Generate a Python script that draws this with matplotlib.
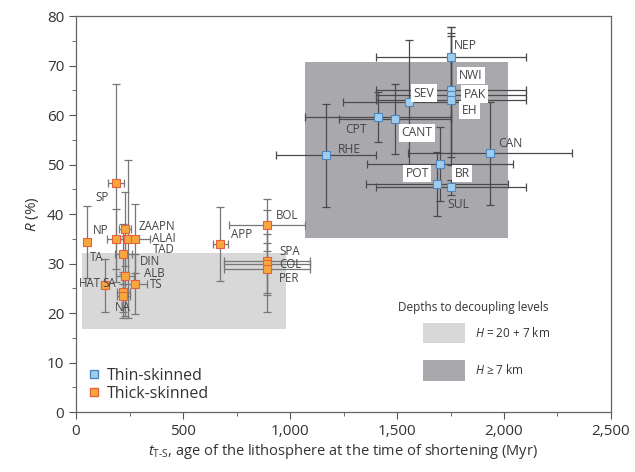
import numpy as np
import matplotlib.pyplot as plt
from matplotlib.patches import Rectangle
from matplotlib.lines import Line2D
from matplotlib.ticker import MultipleLocator, FuncFormatter

plt.rcParams['font.family'] = ['Open Sans', 'DejaVu Sans']
plt.rcParams['mathtext.fontset'] = 'custom'
plt.rcParams['mathtext.rm'] = 'Open Sans'
plt.rcParams['mathtext.it'] = 'Open Sans:italic'

# thin-skinned belts
thin_names = ['NEP', 'NWI', 'PAK', 'EH', 'SEV', 'CPT', 'CANT', 'RHE', 'CAN', 'POT', 'BR', 'SUL']
thin_age = [1752, 1752, 1752, 1752, 1556, 1411, 1491, 1168, 1935, 1701, 1687, 1752]
thin_r = [71.7, 65.0, 64.0, 63.0, 62.6, 59.6, 59.2, 51.9, 52.3, 50.1, 46.1, 45.4]
thin_age_err = [350, 350, 350, 350, 310, 340, 260, 234, 385, 341, 334, 350]
thin_r_err = [6.0, 12.7, 12.5, 13.0, 12.6, 5.0, 7.0, 10.4, 10.4, 7.5, 6.5, 1.5]

# thick-skinned belts
thick_names = ['SP', 'NP', 'TA', 'ZAAPN', 'TAD', 'ALAI', 'DIN', 'ALB', 'TS', 'HAT', 'SA', 'NA',
               'APP', 'BOL', 'SPA', 'COL', 'PER']
thick_age = [187, 187, 51, 229, 244, 276, 221, 229, 276, 136, 221, 221, 673, 893, 893, 893, 893]
thick_r = [46.3, 35.0, 34.4, 37.0, 35.0, 35.0, 31.9, 27.5, 25.9, 25.6, 24.2, 23.4,
           34.0, 37.8, 30.5, 30.0, 28.9]
thick_age_err = [37, 40, 15, 30, 50, 70, 40, 40, 56, 20, 30, 30, 35, 178, 200, 200, 200]
thick_r_err = [20.0, 6.0, 7.3, 7.5, 16.0, 7.0, 6.0, 8.0, 6.0, 5.3, 4.0, 4.5, 7.5, 5.2, 10.3, 6.0, 5.3]

# label positions (data coords, left-aligned)
thin_lab = {'NEP': (1766, 74.1), 'NWI': (1790, 68.0), 'PAK': (1812, 64.2), 'EH': (1803, 61.0),
            'SEV': (1578, 64.4), 'CPT': (1257, 57.0), 'CANT': (1520, 56.4), 'RHE': (1224, 53.1),
            'CAN': (1972, 54.3), 'POT': (1540, 48.2), 'BR': (1770, 48.2), 'SUL': (1734, 42.0)}
boxed = ['NWI', 'PAK', 'EH', 'SEV', 'CANT', 'POT', 'BR']
thick_lab = {'SP': (89, 43.4), 'NP': (80, 36.6), 'ZAAPN': (294, 37.5), 'ALAI': (355, 35.1),
             'TAD': (360, 32.8), 'TA': (65, 31.3), 'DIN': (299, 30.4), 'ALB': (318, 28.0),
             'TS': (346, 25.7), 'HAT': (15, 25.9), 'SA': (121, 25.9), 'NA': (182, 21.2),
             'APP': (724, 35.8), 'BOL': (934, 39.8), 'SPA': (949, 32.5), 'COL': (949, 29.9),
             'PER': (949, 26.9)}

fig = plt.figure(figsize=(6.35, 4.72), dpi=100)
ax = fig.add_axes([0.1197, 0.127, 0.8425, 0.839])

light = '#d8d8d8'
dark = '#a9a8ad'
ax.add_patch(Rectangle((28, 16.8), 953, 15.3, color=light, lw=0, zorder=0))
ax.add_patch(Rectangle((1070, 35.2), 949, 35.5, color=dark, lw=0, zorder=0))

ax.errorbar(thick_age, thick_r, xerr=thick_age_err, yerr=thick_r_err, fmt='none',
            ecolor='#777777', elinewidth=0.9, capsize=3, capthick=0.9, zorder=2)
ax.errorbar(thin_age, thin_r, xerr=thin_age_err, yerr=thin_r_err, fmt='none',
            ecolor='#4a4a4a', elinewidth=0.9, capsize=3, capthick=0.9, zorder=2)
ax.plot(thick_age, thick_r, 's', ms=6, mfc='#f8a73e', mec='#e5603c', mew=0.8, zorder=4)
ax.plot(thin_age, thin_r, 's', ms=6, mfc='#9fcdee', mec='#4f86bf', mew=0.8, zorder=4)

for n in thin_names:
    tx, ty = thin_lab[n]
    kw = {}
    if n in boxed:
        kw['bbox'] = dict(boxstyle='square,pad=0.2', fc='white', ec='none')
    ax.text(tx, ty, n, fontsize=8.7, color='#444444', va='center', ha='left', zorder=5, **kw)
for n in thick_names:
    tx, ty = thick_lab[n]
    ax.text(tx, ty, n, fontsize=8.3, color='#444444', va='center', ha='left', zorder=5)

# decoupling-depth legend
ax.text(1505, 21.2, 'Depths to decoupling levels', fontsize=8.5, color='#333333', va='center')
ax.add_patch(Rectangle((1621, 14.0), 197, 4.0, color=light, lw=0))
ax.add_patch(Rectangle((1621, 6.3), 197, 4.2, color=dark, lw=0))
ax.text(1864, 16.0, '$H$ = 20 + 7 km', fontsize=8.5, color='#333333', va='center')
ax.text(1864, 8.4, '$H$ ≥ 7 km', fontsize=8.5, color='#333333', va='center')

handles = [Line2D([], [], ls='none', marker='s', ms=6, mfc='#9fcdee', mec='#4f86bf'),
           Line2D([], [], ls='none', marker='s', ms=6, mfc='#f8a73e', mec='#e5603c')]
ax.legend(handles, ['Thin-skinned', 'Thick-skinned'], loc='lower left', frameon=False,
          fontsize=11.5, handlelength=0.8, handletextpad=0.4, labelspacing=0.1,
          bbox_to_anchor=(-0.005, -0.01), labelcolor='#333333')

ax.set_xlim(0, 2500)
ax.set_ylim(0, 80)
ax.xaxis.set_major_locator(MultipleLocator(500))
ax.xaxis.set_minor_locator(MultipleLocator(250))
ax.yaxis.set_major_locator(MultipleLocator(10))
ax.yaxis.set_minor_locator(MultipleLocator(5))
ax.xaxis.set_major_formatter(FuncFormatter(lambda v, p: f'{int(v):,}'))
ax.tick_params(which='both', direction='out', colors='#555555', labelcolor='#333333')
ax.tick_params(which='major', length=5, labelsize=11)
ax.tick_params(which='minor', length=3)
for s in ax.spines.values():
    s.set_color('#666666')
    s.set_linewidth(0.9)

ax.set_xlabel('$t_{\\mathrm{T‐S}}$, age of the lithosphere at the time of shortening (Myr)',
              fontsize=10.5, color='#333333', labelpad=2)
ax.set_ylabel('$R$ (%)', fontsize=11, color='#333333', labelpad=4)

fig.savefig('out.png', dpi=100)
